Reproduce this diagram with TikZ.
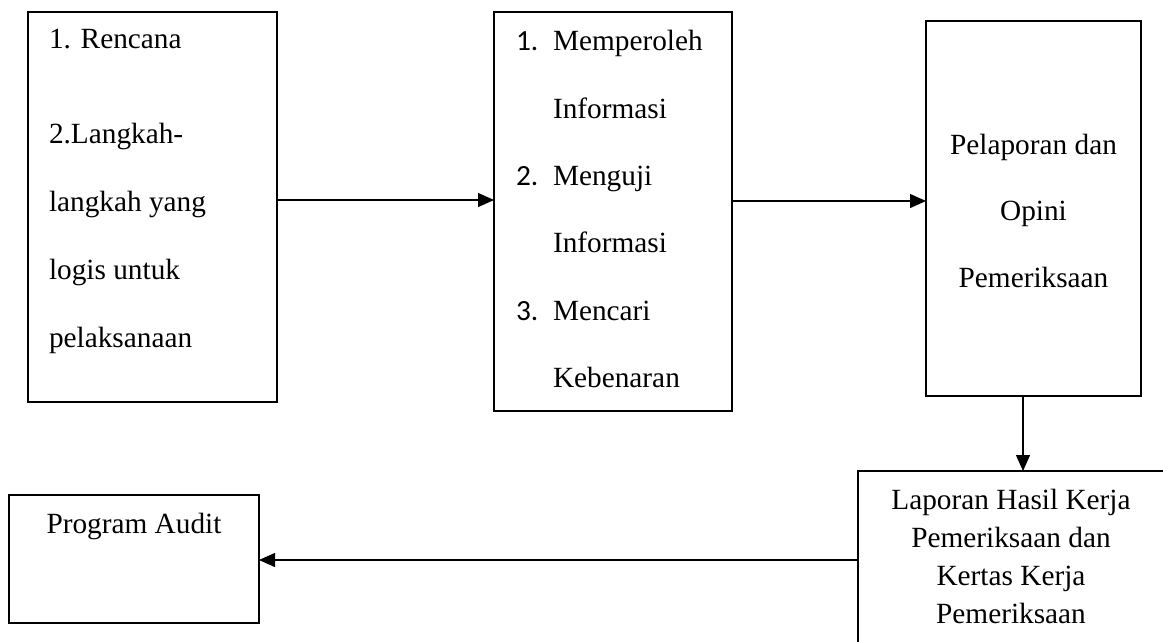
\documentclass[tikz,border=0pt]{standalone}
\usepackage{fontspec}
\setmainfont{Liberation Serif}
\newfontfamily\numfont{Carlito}
\usetikzlibrary{arrows.meta}
\begin{document}
\begin{tikzpicture}[x=1pt,y=-1pt,
  box/.style={draw=black, line width=1.5pt, fill=none, inner sep=0pt, outer sep=0pt, anchor=north west},
  txt/.style={inner sep=0pt, outer sep=0pt, font=\fontsize{29.3}{38}\selectfont},
  arr/.style={draw=black, line width=1.3pt, -{Triangle[length=16pt,width=14pt]}}]
\useasboundingbox (0,0) rectangle (1163,641);
\fill[white] (0,0) rectangle (1163,641);
% boxes
\node[box, minimum width=249pt, minimum height=390pt] (b1) at (28,12) {};
\node[box, minimum width=238pt, minimum height=399pt] (b2) at (494,12) {};
\node[box, minimum width=215pt, minimum height=375pt] (b3) at (926,21) {};
\node[box, minimum width=310pt, minimum height=200pt] (b4) at (858,471) {};
\node[box, minimum width=250pt, minimum height=128pt] (b5) at (9,495) {};
% box 1 text
\node[txt, anchor=base west] (t11) at (49,48) {1. Rencana};
\node[txt, anchor=base west] (t12) at (49,143) {2.Langkah-};
\node[txt, anchor=base west] (t13) at (49,211) {langkah yang};
\node[txt, anchor=base west] (t14) at (49,279) {logis untuk};
\node[txt, anchor=base west] (t15) at (49,347) {pelaksanaan};
% box 2 text
\node[txt, anchor=base west] (n21) at (516,50) {\numfont 1.};
\node[txt, anchor=base west] (t21) at (553,50) {Memperoleh};
\node[txt, anchor=base west] (t22) at (553,118) {Informasi};
\node[txt, anchor=base west] (n23) at (516,185) {\numfont 2.};
\node[txt, anchor=base west] (t23) at (553,185) {Menguji};
\node[txt, anchor=base west] (t24) at (553,252) {Informasi};
\node[txt, anchor=base west] (n25) at (516,320) {\numfont 3.};
\node[txt, anchor=base west] (t25) at (553,320) {Mencari};
\node[txt, anchor=base west] (t26) at (553,387) {Kebenaran};
% box 3 text
\node[txt, anchor=base] (t31) at (1033.5,154) {Pelaporan dan};
\node[txt, anchor=base] (t32) at (1033.5,220) {Opini};
\node[txt, anchor=base] (t33) at (1033.5,287) {Pemeriksaan};
% box 4 text
\node[txt, anchor=base] (t41) at (1011,509) {Laporan Hasil Kerja};
\node[txt, anchor=base] (t42) at (1011,547) {Pemeriksaan dan};
\node[txt, anchor=base] (t43) at (1011,585) {Kertas Kerja};
\node[txt, anchor=base] (t44) at (1011,623) {Pemeriksaan};
% box 5 text
\node[txt, anchor=base] (t51) at (134,533) {Program Audit};
% connector heights
\coordinate (y1) at (0,200);
\coordinate (y2) at (0,201);
\coordinate (x3) at (1023,0);
\coordinate (y4) at (0,560);
% connectors
\draw[arr] (b1.east |- y1) -- (b2.west |- y1);
\draw[arr] (b2.east |- y2) -- (b3.west |- y2);
\draw[arr] (b3.south -| x3) -- (b4.north -| x3);
\draw[arr] (b4.west |- y4) -- (b5.east |- y4);
\end{tikzpicture}
\end{document}
